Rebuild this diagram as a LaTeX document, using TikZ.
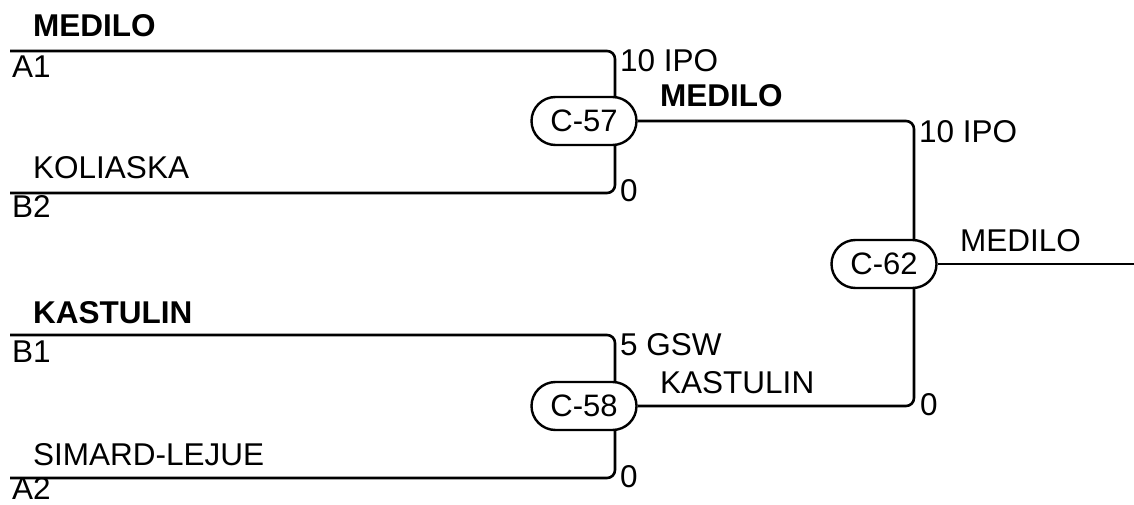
\documentclass[tikz,border=0pt]{standalone}
\usepackage{fontspec}
\setmainfont{Liberation Sans}
\usetikzlibrary{shapes.misc}
\tikzset{
  match/.style={draw, line width=2.4pt, rounded rectangle, minimum width=105pt, minimum height=48pt, inner sep=0pt, fill=white, font=\fontsize{31}{37}\selectfont},
  lbl/.style={anchor=base west, inner sep=0pt, font=\fontsize{31.5}{37}\selectfont},
  blbl/.style={lbl, font=\fontsize{31.5}{37}\selectfont\bfseries},
  wire/.style={line width=2.6pt, rounded corners=8pt},
}
\begin{document}
\begin{tikzpicture}[x=1pt, y=1pt]
\useasboundingbox (0,0) rectangle (1134,504);
% match nodes
\node[match] (c57) at (584,383) {C-57};
\node[match] (c58) at (584,98) {C-58};
\node[match] (c62) at (884,240) {C-62};
% free ends
\coordinate (lA1) at (10,453);
\coordinate (lB2) at (10,311);
\coordinate (lB1) at (10,169);
\coordinate (lA2) at (10,26);
\coordinate (out) at (1134,240);
% connectors
\draw[wire] (lA1) -| ([xshift=31pt]c57.north);
\draw[wire] (lB2) -| ([xshift=31pt]c57.south);
\draw[wire] (lB1) -| ([xshift=31pt]c58.north);
\draw[wire] (lA2) -| ([xshift=31pt]c58.south);
\draw[wire] (c57.east) -| ([xshift=30pt]c62.north);
\draw[wire] (c58.east) -| ([xshift=30pt]c62.south);
\draw[wire] (c62.east) -- (out);
% left labels
\node[blbl] (t1) at (33,467) {MEDILO};
\node[lbl] (s1) at (12,426) {A1};
\node[lbl] (t2) at (33,325) {KOLIASKA};
\node[lbl] (s2) at (12,287) {B2};
\node[blbl] (t3) at (33,181) {KASTULIN};
\node[lbl] (s3) at (12,142) {B1};
\node[lbl] (t4) at (33,39) {SIMARD-LEJUE};
\node[lbl] (s4) at (12,5) {A2};
% scores
\node[lbl] (p1) at (620,432) {10 IPO};
\node[lbl] (p2) at (620,302) {0};
\node[lbl] (p3) at (620,149) {5 GSW};
\node[lbl] (p4) at (620,17) {0};
\node[lbl] (p5) at (919,361) {10 IPO};
\node[lbl] (p6) at (920,89) {0};
% winners
\node[blbl] (w1) at (660,397) {MEDILO};
\node[lbl] (w2) at (660,111) {KASTULIN};
\node[lbl] (w3) at (960,253) {MEDILO};
\end{tikzpicture}
\end{document}
